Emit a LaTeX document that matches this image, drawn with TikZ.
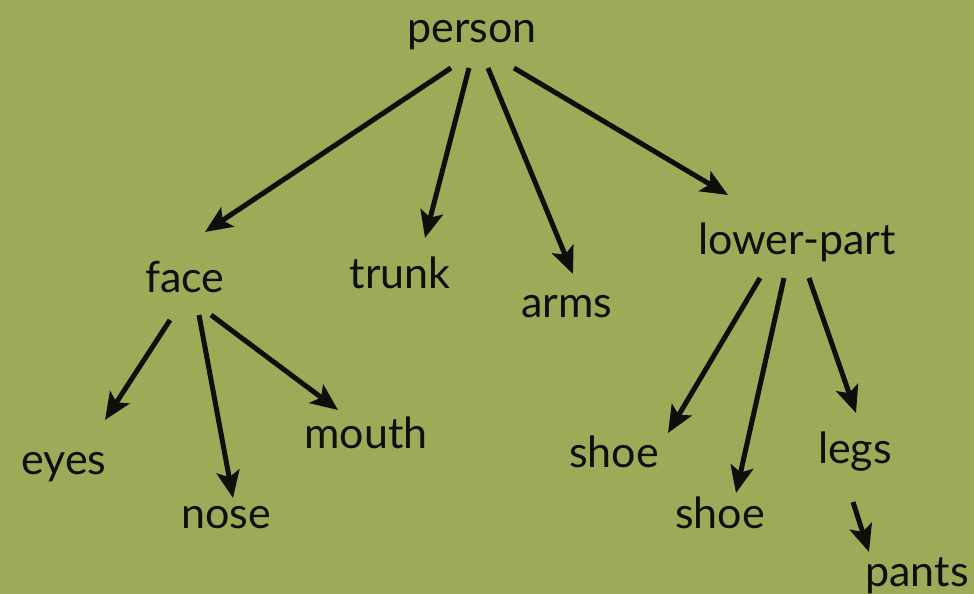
\documentclass[tikz,border=0pt]{standalone}
\usepackage{fontspec}
\setmainfont{Lato}
\usetikzlibrary{arrows.meta}
\definecolor{bg}{RGB}{157,171,88}
\definecolor{ink}{RGB}{15,15,10}
\begin{document}
\begin{tikzpicture}[x=1pt,y=-1pt,
  lbl/.style={font=\fontsize{43}{47}\selectfont, text=ink, inner sep=0pt, anchor=base},
  link/.style={line width=5pt, draw=ink, -{Stealth[length=27pt,width=23pt,inset=6pt]}}]
\fill[bg] (0,0) rectangle (974,594);
\useasboundingbox (0,0) rectangle (974,594);
\node[lbl] (person) at (472,43) {person};
\node[lbl] (face) at (185,292) {face};
\node[lbl] (trunk) at (400,288) {trunk};
\node[lbl] (arms) at (567,317) {arms};
\node[lbl] (lower) at (797,254) {lower-part};
\node[lbl] (eyes) at (64,474) {eyes};
\node[lbl] (nose) at (226,528) {nose};
\node[lbl] (mouth) at (366,448) {mouth};
\node[lbl] (shoeA) at (614,467) {shoe};
\node[lbl] (shoeB) at (720,528) {shoe};
\node[lbl] (legs) at (855,463) {legs};
\node[lbl] (pants) at (917,586) {pants};
% connector end points
\coordinate (pf) at (451,68); \coordinate (fp) at (205,232);
\coordinate (pt) at (469,68); \coordinate (tp) at (425,238);
\coordinate (pa) at (488,68); \coordinate (ap) at (573,274);
\coordinate (pl) at (514,68); \coordinate (lp) at (728,195);
\coordinate (fe) at (170,320); \coordinate (ef) at (105,420);
\coordinate (fn) at (199,315); \coordinate (nf) at (233,498);
\coordinate (fm) at (211,315); \coordinate (mf) at (338,410);
\coordinate (ls1) at (760,278); \coordinate (s1l) at (668,433);
\coordinate (ls2) at (784,278); \coordinate (s2l) at (736,493);
\coordinate (lg) at (809,278); \coordinate (gl) at (856,413);
\coordinate (gp) at (853,502); \coordinate (pg) at (869,552);
\draw[link] (pf) -- (fp);
\draw[link] (pt) -- (tp);
\draw[link] (pa) -- (ap);
\draw[link] (pl) -- (lp);
\draw[link] (fe) -- (ef);
\draw[link] (fn) -- (nf);
\draw[link] (fm) -- (mf);
\draw[link] (ls1) -- (s1l);
\draw[link] (ls2) -- (s2l);
\draw[link] (lg) -- (gl);
\draw[link] (gp) -- (pg);
\end{tikzpicture}
\end{document}
